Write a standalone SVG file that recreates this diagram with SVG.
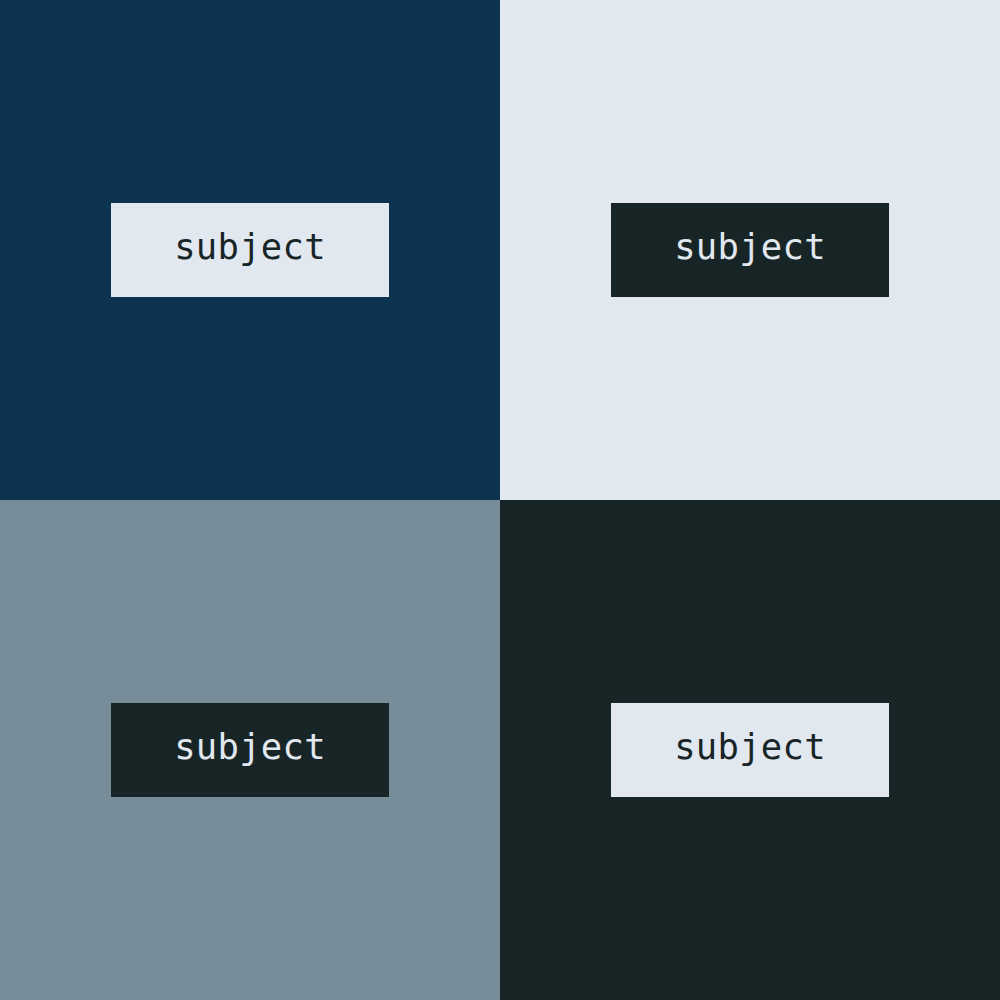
<svg xmlns="http://www.w3.org/2000/svg" width="1000" height="1000" viewBox="0 0 1000 1000">
<style>
.lbl{font-family:"DejaVu Sans Mono","Liberation Mono",monospace;font-size:35.5px;text-anchor:middle;dominant-baseline:central;letter-spacing:0.3px}
.light{fill:#e2e8ef}
.dark{fill:#182527}
</style>
<rect x="0" y="0" width="500" height="500" fill="#0c3350"/>
<rect x="500" y="0" width="500" height="500" fill="#e2e8ef"/>
<rect x="0" y="500" width="500" height="500" fill="#778c99"/>
<rect x="500" y="500" width="500" height="500" fill="#182527"/>
<g id="n1"><rect class="light" x="111" y="203" width="278" height="94"/><text class="lbl dark" x="250" y="246.5">subject</text></g>
<g id="n2"><rect class="dark" x="611" y="203" width="278" height="94"/><text class="lbl light" x="750" y="246.5">subject</text></g>
<g id="n3"><rect class="dark" x="111" y="703" width="278" height="94"/><text class="lbl light" x="250" y="746.5">subject</text></g>
<g id="n4"><rect class="light" x="611" y="703" width="278" height="94"/><text class="lbl dark" x="750" y="746.5">subject</text></g>
<g id="connectors"/>
</svg>
